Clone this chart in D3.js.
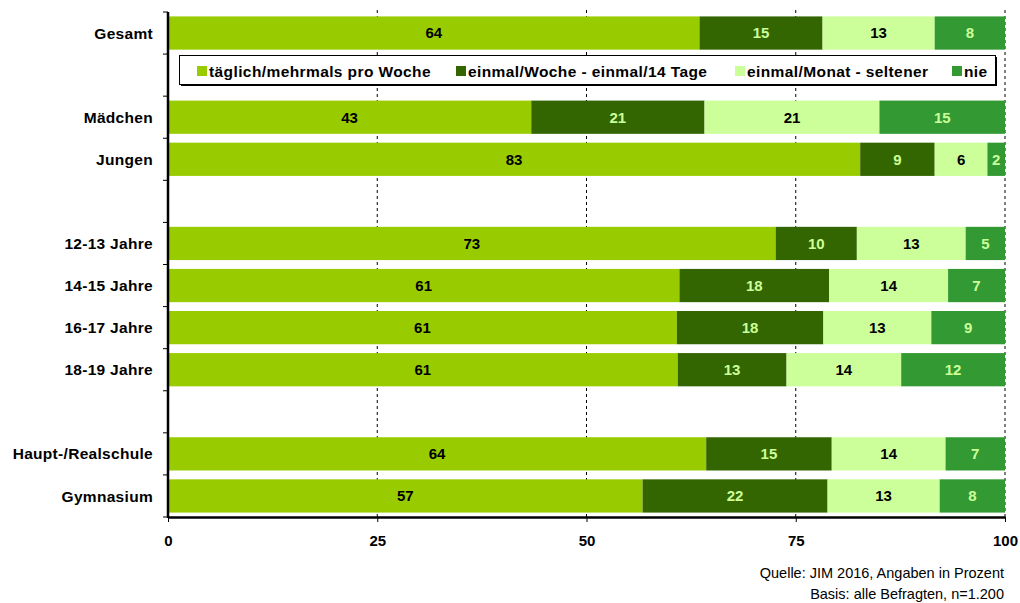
<!DOCTYPE html>
<html lang="de">
  <head>
    <meta charset="utf-8">
    <title>JIM 2016</title>
    <script src="https://d3js.org/d3.v7.min.js"></script>
    <style>
      body{ margin:0; background:#fff; }
      text{ font-family:"Liberation Sans", Arial, sans-serif; }
    </style>
  </head>
  <body>
    <svg id="chart"></svg>
    <script>
      // rows of the chart, blank names = empty rows (gap / legend row)
      var categories = ["Gesamt", "", "Mädchen", "Jungen", " ", "12-13 Jahre", "14-15 Jahre",
                        "16-17 Jahre", "18-19 Jahre", "  ", "Haupt-/Realschule", "Gymnasium"];
      var seriesNames = ["täglich/mehrmals pro Woche", "einmal/Woche - einmal/14 Tage",
                         "einmal/Monat - seltener", "nie"];
      var barCategories = ["Gesamt", "Mädchen", "Jungen", "12-13 Jahre", "14-15 Jahre",
                           "16-17 Jahre", "18-19 Jahre", "Haupt-/Realschule", "Gymnasium"];
      var daily   = [63.5, 43.4, 82.7, 72.6, 61.1, 60.8, 60.9, 64.3, 56.7];
      var weekly  = [14.7, 20.7,  8.9,  9.7, 17.9, 17.5, 13.0, 15.0, 22.1];
      var monthly = [13.4, 20.9,  6.3, 13.0, 14.2, 12.9, 13.7, 13.6, 13.4];
      var never   = [ 8.4, 15.0,  2.1,  4.7,  6.8,  8.8, 12.4,  7.1,  7.8];
      var xTicks = [0, 25, 50, 75, 100];
      var sourceLines = ["Quelle: JIM 2016, Angaben in Prozent", "Basis: alle Befragten, n=1.200"];

      var colors = ["#99cc00", "#336600", "#ccff99", "#339933"];
      var labelColors = ["#000", "#ccff99", "#000", "#ccff99"];

      var width = 1020, height = 603;
      var mLeft = 168, mRight = 1005, mTop = 12, mBottom = 517;

      var svg = d3.select("#chart").attr("width", width).attr("height", height);

      var x = d3.scaleLinear().domain([0, 100]).range([mLeft, mRight]);
      var y = d3.scaleBand().domain(categories).range([mTop, mBottom])
                .paddingInner(0.21).paddingOuter(0.105);

      // dashed grid lines
      svg.selectAll("line.grid")
         .data(xTicks.slice(1))
         .enter().append("line")
         .attr("class", "grid")
         .attr("x1", function(d){ return x(d); })
         .attr("x2", function(d){ return x(d); })
         .attr("y1", mTop - 2)
         .attr("y2", mBottom)
         .attr("stroke", "#000")
         .attr("stroke-width", 1)
         .attr("stroke-dasharray", "3,3");

      // build stacked data
      var keys = ["daily", "weekly", "monthly", "never"];
      var table = barCategories.map(function(c, i){
        return {cat: c, daily: daily[i], weekly: weekly[i], monthly: monthly[i], never: never[i]};
      });
      var stack = d3.stack().keys(keys)(table);

      var layers = svg.selectAll("g.layer")
         .data(stack)
         .enter().append("g")
         .attr("class", "layer")
         .attr("fill", function(d){ return colors[d.index]; });

      layers.selectAll("rect")
         .data(function(d){ return d; })
         .enter().append("rect")
         .attr("x", function(d){ return x(d[0]); })
         .attr("y", function(d){ return y(d.data.cat); })
         .attr("width", function(d){ return x(d[1]) - x(d[0]); })
         .attr("height", y.bandwidth());

      layers.selectAll("text")
         .data(function(d){ return d.map(function(s){ return {s: s, i: d.index}; }); })
         .enter().append("text")
         .attr("x", function(d){ return (x(d.s[0]) + x(d.s[1])) / 2; })
         .attr("y", function(d){ return y(d.s.data.cat) + y.bandwidth() / 2; })
         .attr("dy", "0.36em")
         .attr("text-anchor", "middle")
         .attr("font-size", 15)
         .attr("font-weight", "bold")
         .attr("fill", function(d){ return labelColors[d.i]; })
         .text(function(d){ return Math.round(d.s[1] - d.s[0]); });

      // x axis
      var xAxis = svg.append("g")
         .attr("transform", "translate(0," + mBottom + ")")
         .call(d3.axisBottom(x).tickValues(xTicks).tickSize(5).tickPadding(13).tickSizeOuter(0));
      xAxis.select(".domain").attr("stroke-width", 2.5);
      xAxis.selectAll(".tick text")
           .attr("font-size", 15).attr("font-weight", "bold")
           .attr("font-family", "Liberation Sans, Arial, sans-serif");

      // y axis: line, ticks at row boundaries, labels at row centres
      svg.append("line")
         .attr("x1", mLeft).attr("x2", mLeft)
         .attr("y1", mTop).attr("y2", mBottom + 1)
         .attr("stroke", "#000").attr("stroke-width", 2.5);
      svg.selectAll("line.ytick")
         .data(d3.range(categories.length + 1))
         .enter().append("line")
         .attr("class", "ytick")
         .attr("x1", mLeft - 5).attr("x2", mLeft)
         .attr("y1", function(i){ return mTop + i * y.step(); })
         .attr("y2", function(i){ return mTop + i * y.step(); })
         .attr("stroke", "#000");
      svg.selectAll("text.ylabel")
         .data(categories)
         .enter().append("text")
         .attr("class", "ylabel")
         .attr("x", 153)
         .attr("y", function(d){ return y(d) + y.bandwidth() / 2; })
         .attr("dy", "0.36em")
         .attr("text-anchor", "end")
         .attr("font-size", 15.5)
         .attr("letter-spacing", 0.3)
         .attr("font-weight", "bold")
         .text(function(d){ return d.trim(); });

      // legend
      var legendX = [197, 456, 735, 952];
      var lg = svg.append("g");
      lg.append("rect").attr("x", 181).attr("y", 57).attr("width", 816).attr("height", 29).attr("fill", "#000");
      lg.append("rect").attr("x", 179.5).attr("y", 55.5).attr("width", 816).attr("height", 29)
        .attr("fill", "#fff").attr("stroke", "#000").attr("stroke-width", 1);
      var items = lg.selectAll("g.item")
        .data(seriesNames)
        .enter().append("g")
        .attr("transform", function(d, i){ return "translate(" + legendX[i] + ",0)"; });
      items.append("rect")
        .attr("x", 0).attr("y", 66).attr("width", 10).attr("height", 10)
        .attr("fill", function(d, i){ return colors[i]; });
      items.append("text")
        .attr("x", 12).attr("y", 71).attr("dy", "0.36em")
        .attr("font-size", 15.5).attr("font-weight", "bold")
        .attr("letter-spacing", 0.4)
        .text(function(d){ return d; });

      // source notes
      svg.selectAll("text.source")
         .data(sourceLines)
         .enter().append("text")
         .attr("class", "source")
         .attr("x", 1004)
         .attr("y", function(d, i){ return 578 + i * 21; })
         .attr("text-anchor", "end")
         .attr("font-size", 14.5)
         .text(function(d){ return d; });
    </script>
  </body>
</html>
